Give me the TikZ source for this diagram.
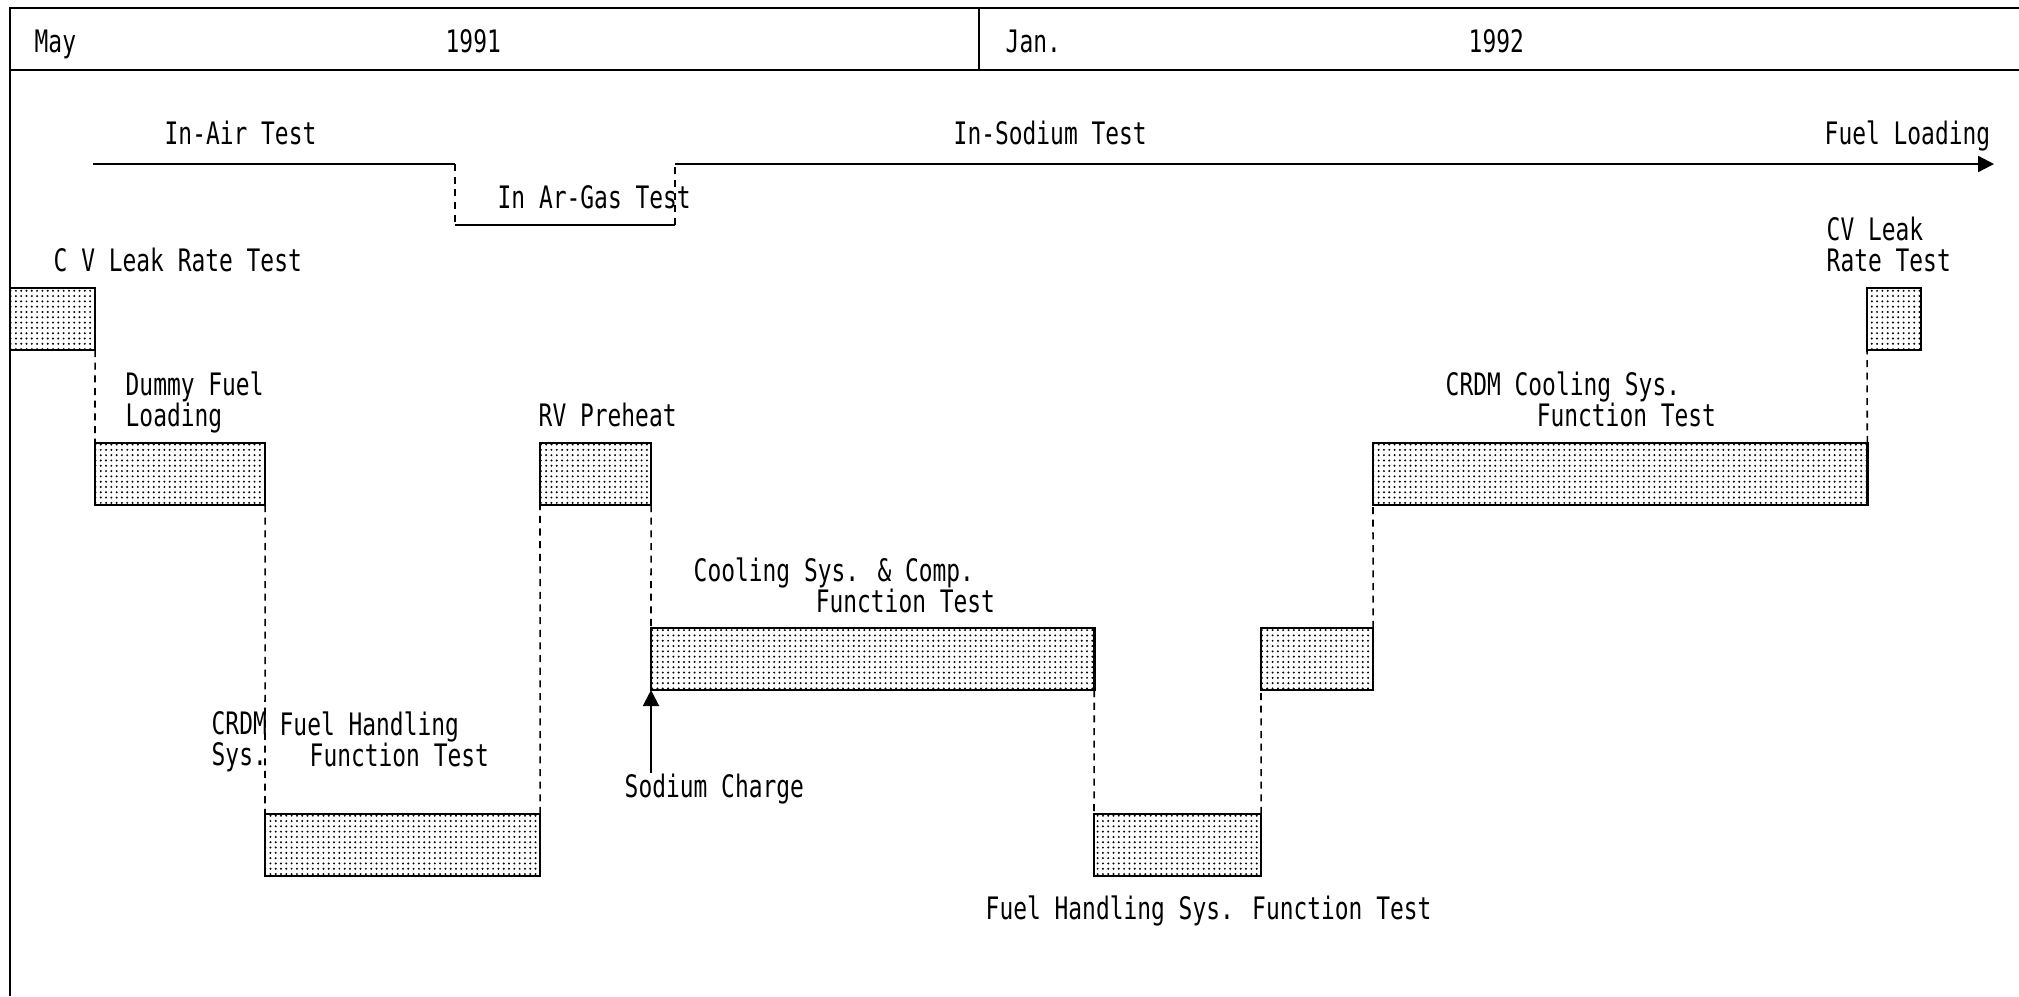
\documentclass[tikz,border=0pt]{standalone}
\usepackage{fontspec}
\newfontfamily\chartfont{DejaVu Sans Mono}[FakeStretch=0.74]
\usetikzlibrary{positioning,arrows.meta,patterns.meta}

\begin{document}
\begin{tikzpicture}[x=0.01cm,y=-0.01cm,>={Triangle[length=0.16cm,width=0.16cm]},
  lbl/.style={font=\chartfont\fontsize{8.8pt}{8.8pt}\selectfont,inner sep=0pt,anchor=north west,align=left},
  bar/.style={draw,line width=0.7pt,pattern={Dots[distance=0.053cm,radius=0.011cm]},inner sep=0pt,outer sep=0pt,anchor=north west,minimum height=0.62cm},
  link/.style={dash pattern=on 2pt off 1.6pt,line width=0.45pt}]
  \useasboundingbox (0,0) rectangle (2019,996);
  % time scale
  \draw[line width=0.6pt] (10,996) -- (10,8) -- (2019,8);
  \draw[line width=0.6pt] (10,70) -- (2019,70);
  \draw[line width=0.6pt] (979,8) -- (979,70);
  \node[lbl] (may) at (34,29) {May};
  \node[lbl] (y1991) at (445,29) {1991};
  \node[lbl] (jan) at (1005,29) {Jan.};
  \node[lbl] (y1992) at (1468,29) {1992};
  % test phases
  \coordinate (air0) at (93,164);
  \coordinate (air1) at (455,164);
  \coordinate (gas0) at (455,225);
  \coordinate (gas1) at (675,225);
  \coordinate (na0) at (675,164);
  \coordinate (fuel) at (1994,164);
  \draw[line width=0.6pt] (air0) -- (air1);
  \draw[link] (air1) -- (gas0);
  \draw[line width=0.6pt] (gas0) -- (gas1);
  \draw[link] (gas1) -- (na0);
  \draw[line width=0.6pt,->] (na0) -- (fuel);
  \node[lbl] (inair) at (164,120) {In-Air Test};
  \node[lbl] (insodium) at (953,120) {In-Sodium Test};
  \node[lbl] (fuelload) at (1824,120) {Fuel Loading};
  \node[lbl] (argas) at (497,185) {In Ar-Gas Test};
  % bars
  \node[bar,minimum width=0.85cm] (cv1) at (10,288) {};
  \node[bar,minimum width=1.70cm] (dummy) at (95,443) {};
  \node[bar,minimum width=2.75cm] (fh) at (265,814) {};
  \node[bar,minimum width=1.11cm] (rv) at (540,443) {};
  \node[bar,minimum width=4.43cm] (cool) at (651,628) {};
  \node[bar,minimum width=1.67cm] (fhs) at (1094,814) {};
  \node[bar,minimum width=1.12cm] (mid) at (1261,628) {};
  \node[bar,minimum width=4.94cm] (crdm) at (1373,443) {};
  \node[bar,minimum width=0.54cm] (cv2) at (1867,288) {};
  \draw[link] (cv1.south east) -- (dummy.north west);
  \draw[link] (dummy.south east) -- (fh.north west);
  \draw[link] (fh.north east) -- (rv.south west);
  \draw[link] (rv.south east) -- (cool.north west);
  \draw[link] (cool.south east) -- (fhs.north west);
  \draw[link] (fhs.north east) -- (mid.south west);
  \draw[link] (mid.north east) -- (crdm.south west);
  \draw[link] (crdm.north east) -- (cv2.south west);
  \coordinate (nafoot) at (651,773);
  \draw[line width=0.6pt,->] (nafoot) -- (cool.south west);
  % labels
  \node[lbl] (cvlbl) at (53,247) {C V Leak Rate Test};
  \node[lbl] (dummylbl) at (125,371) {Dummy Fuel\\Loading};
  \node[lbl] (rvlbl) at (538,402) {RV Preheat};
  \node[lbl] (crdmsys) at (211,711) {CRDM\\Sys.};
  \node[lbl] (fhlbl) at (279,711) {Fuel Handling\\\hspace*{0.3cm}Function Test};
  \node[lbl] (coollbl) at (693,557) {Cooling Sys. \& Comp.\\\hspace*{1.22cm}Function Test};
  \node[lbl] (nalbl) at (624,773) {Sodium Charge};
  \node[lbl] (fhslbl) at (985,895) {Fuel Handling Sys. Function Test};
  \node[lbl] (crdmlbl) at (1445,371) {CRDM Cooling Sys.\\\hspace*{0.91cm}Function Test};
  \node[lbl] (cv2lbl) at (1826,216) {CV Leak\\Rate Test};
\end{tikzpicture}
\end{document}
